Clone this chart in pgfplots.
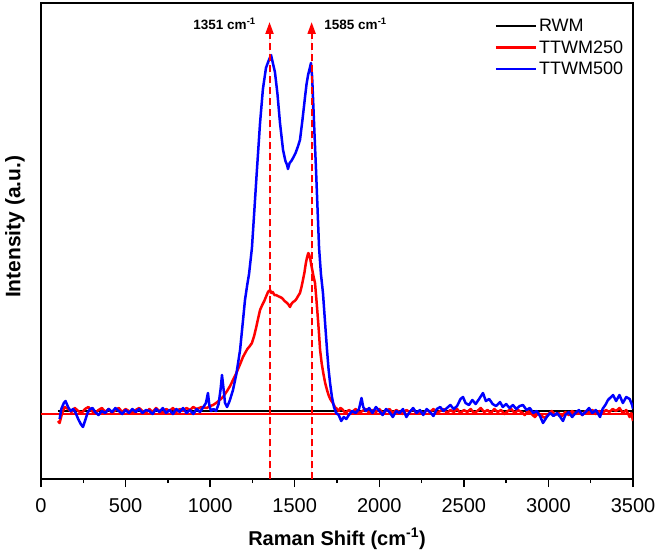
\documentclass[border=0pt]{standalone}
\usepackage{pgfplots}
\pgfplotsset{compat=1.18}
\usepackage{fontspec}
\setmainfont{Liberation Sans}
\usetikzlibrary{arrows.meta}
\definecolor{cred}{RGB}{255,0,0}
\definecolor{cblue}{RGB}{0,0,255}
\definecolor{cblack}{RGB}{0,0,0}
\begin{document}
\begin{tikzpicture}
\begin{axis}[
  scale only axis, width=592pt, height=476pt,
  xmin=0, xmax=3500, ymin=0, ymax=476,
  xtick={0,500,...,3500}, minor xtick={250,750,...,3250},
  ytick=\empty, xtick pos=lower, tick align=outside,
  major tick length=8pt, minor tick length=4pt,
  every tick/.style={black, line width=1.5pt},
  axis line style={line width=1.8pt},
  /pgf/number format/assume math mode=true,
  /pgf/number format/1000 sep={},
  tick label style={font=\fontsize{20}{23}\selectfont},
  xticklabel style={yshift=-8pt},
  xlabel={\textbf{Raman Shift (cm\textsuperscript{-1})}},
  ylabel={\textbf{Intensity (a.u.)}},
  xlabel style={font=\fontsize{20}{24}\selectfont, at={(axis description cs:0.5,0)}, anchor=center, yshift=-60pt},
  ylabel style={font=\fontsize{21}{24}\selectfont, at={(axis description cs:0,0.53)}, anchor=center, yshift=26pt},
  legend style={draw=none, fill=none, at={(rel axis cs:0.992,0.975)}, anchor=north east,
    font=\fontsize{18}{22}\selectfont, row sep=3.5pt},
  legend cell align=left,
  every axis plot/.append style={line join=round},
  legend image code/.code={\draw[line width=2.5pt, #1] (0pt,0pt) -- (40pt,0pt);},
]
% RWM
\addplot[draw=cblack, line width=2.5pt] coordinates {(100,68) (3500,68)};
\addlegendentry{RWM}
% TTWM250
\addplot[draw=cred, line width=2.5pt] coordinates {
(100,58) (110,56) (125,66) (140,72) (160,70) (180,67) (200,71) (220,68) (240,66) (260,70) (280,72) (300,68)
(320,66) (340,69) (360,71) (380,67) (400,70) (420,66) (440,69) (460,71) (480,67) (500,70) (520,68) (540,66)
(560,69) (580,71) (600,68) (620,66) (640,70) (660,67) (680,71) (700,68) (720,66) (740,70) (760,68) (780,71)
(800,67) (820,70) (840,68) (860,71) (881,69) (900,72) (920,70) (950,72) (980,71) (1000,73) (1017,74)
(1035,76) (1050,78) (1076,82) (1100,88) (1118,93) (1135,99) (1150,104) (1165,110) (1180,116) (1194,122)
(1210,127) (1220,130) (1235,133) (1247,136) (1260,143) (1270,150) (1283,160) (1295,169) (1308,174)
(1320,178) (1332,183) (1342,187) (1354,189) (1362,186) (1370,187) (1380,184) (1390,184) (1400,183)
(1413,182) (1425,181) (1440,178) (1455,176) (1465,174) (1472,172) (1480,175) (1490,177) (1500,178)
(1510,180) (1520,183) (1531,186) (1540,192) (1550,200) (1558,207) (1565,215) (1572,221) (1580,226)
(1586,224) (1592,220) (1598,214) (1605,208) (1612,202) (1620,196) (1628,180) (1635,165) (1643,147)
(1650,129) (1660,115) (1670,105) (1680,96) (1691,89) (1700,84) (1710,80) (1725,76) (1738,72) (1750,70)
(1760,68) (1770,71) (1780,70) (1800,66) (1820,69) (1840,67) (1860,70) (1880,66) (1900,68) (1920,70)
(1940,66) (1960,69) (1980,67) (2000,70) (2020,66) (2040,68) (2060,70) (2080,66) (2100,69) (2120,67)
(2140,65) (2160,69) (2180,67) (2200,70) (2220,66) (2240,68) (2260,65) (2280,69) (2300,67) (2320,70)
(2340,66) (2360,68) (2380,70) (2400,66) (2420,69) (2440,67) (2460,70) (2480,66) (2500,69) (2520,67)
(2540,70) (2560,66) (2580,68) (2600,71) (2620,67) (2640,69) (2660,66) (2680,70) (2700,67) (2720,69)
(2740,65) (2760,68) (2780,70) (2800,66) (2820,69) (2840,67) (2860,64) (2880,68) (2900,65) (2920,62)
(2940,66) (2960,63) (2980,61) (3000,65) (3020,68) (3040,64) (3060,66) (3080,63) (3100,67) (3120,64)
(3140,68) (3160,65) (3180,67) (3200,64) (3220,68) (3240,66) (3260,69) (3280,65) (3300,68) (3320,66)
(3340,69) (3360,67) (3380,70) (3400,68) (3420,71) (3440,66) (3460,69) (3480,62) (3490,66) (3500,58)
};
\addlegendentry{TTWM250}
\addplot[draw=cred, line width=2pt, forget plot] coordinates {(0,65) (3500,65)};
% TTWM500
\addplot[draw=cblue, line width=2.5pt] coordinates {
(110,60) (120,70) (135,76) (145,78) (160,72) (175,68) (190,70) (205,66) (220,60) (235,55) (248,52) (260,58)
(275,66) (290,70) (305,71) (320,67) (340,64) (360,68) (380,66) (400,70) (420,67) (440,71) (460,68) (480,65)
(500,69) (520,66) (540,70) (560,67) (580,70) (600,66) (620,69) (640,68) (660,65) (680,70) (700,67) (720,71)
(740,66) (760,69) (780,65) (800,70) (820,67) (840,71) (860,66) (880,69) (900,65) (920,70) (940,67) (960,72)
(975,76) (987,86) (995,74) (1005,68) (1020,70) (1035,68) (1050,75) (1062,90) (1070,104) (1078,92)
(1088,76) (1100,72) (1115,78) (1135,89) (1155,105) (1177,129) (1195,160) (1206,179) (1220,195) (1230,205)
(1247,231) (1260,265) (1275,305) (1295,356) (1312,390) (1330,411) (1345,418) (1360,424) (1372,415)
(1383,407) (1398,385) (1413,356) (1431,329) (1445,318) (1455,314) (1460,310) (1470,316) (1480,318)
(1490,321) (1505,326) (1520,333) (1531,339) (1545,358) (1561,382) (1570,395) (1579,404) (1588,410)
(1596,416) (1603,402) (1608,382) (1617,345) (1626,309) (1635,270) (1644,231) (1655,205) (1667,186)
(1680,155) (1691,129) (1700,110) (1709,96) (1720,82) (1732,72) (1745,66) (1760,64) (1775,58) (1790,62)
(1805,60) (1820,64) (1840,68) (1860,66) (1880,70) (1895,81) (1905,72) (1920,68) (1940,71) (1960,66)
(1980,72) (2000,68) (2020,64) (2040,70) (2060,67) (2080,62) (2100,68) (2120,66) (2140,70) (2160,62)
(2180,67) (2200,71) (2220,66) (2240,69) (2260,64) (2280,70) (2300,67) (2320,63) (2340,70) (2360,72)
(2380,68) (2400,71) (2420,74) (2440,70) (2460,73) (2480,80) (2495,82) (2510,76) (2530,74) (2550,79)
(2570,75) (2590,80) (2613,86) (2630,78) (2650,80) (2670,75) (2690,73) (2714,77) (2730,72) (2750,75)
(2770,71) (2790,74) (2810,70) (2830,73) (2850,74) (2870,69) (2890,71) (2910,66) (2930,68) (2950,63)
(2968,56) (2990,62) (3010,66) (3030,63) (3050,66) (3070,62) (3086,58) (3100,64) (3120,67) (3140,62)
(3160,66) (3180,69) (3200,64) (3220,67) (3240,71) (3260,66) (3280,69) (3305,62) (3320,70) (3340,75)
(3352,79) (3370,82) (3382,84) (3400,78) (3420,84) (3440,76) (3460,82) (3480,80) (3495,74) (3500,70)
};
\addlegendentry{TTWM500}
% dashed markers
\addplot[draw=cred, fill=cred, line width=2pt, dash pattern=on 7pt off 4pt, -{Triangle[length=12pt,width=8pt]}, forget plot]
  coordinates {(1351,0) (1351,457)};
\addplot[draw=cred, fill=cred, line width=2pt, dash pattern=on 7pt off 4pt, -{Triangle[length=12pt,width=8pt]}, forget plot]
  coordinates {(1600,0) (1600,457)};
\node[anchor=east, font=\fontsize{13.5}{15}\bfseries] at (axis cs:1290,455) {1351 cm\textsuperscript{-1}};
\node[anchor=west, font=\fontsize{13.5}{15}\bfseries] at (axis cs:1655,455) {1585 cm\textsuperscript{-1}};
\end{axis}
\pgfresetboundingbox
\path[use as bounding box] ([xshift=-41pt,yshift=-76pt]current axis.south west) rectangle ([xshift=24pt,yshift=3pt]current axis.north east);
\end{tikzpicture}
\end{document}
